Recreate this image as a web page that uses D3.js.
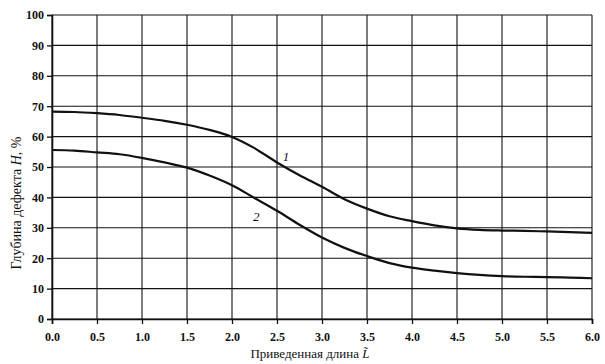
<!DOCTYPE html>
<html>
<head>
<meta charset="utf-8">
<script src="https://cdn.jsdelivr.net/npm/d3@7"></script>
<style>
  body { margin: 0; background: #fff; }
  svg { display: block; }
  .tick text { font-family: "Liberation Serif", serif; font-weight: bold; font-size: 12px; fill: #111; }
</style>
</head>
<body>
<svg id="chart" width="605" height="364"></svg>
<script>
  // relative length L~ (x), defect depth H, % (y)
  var lengths = [0, 0.25, 0.5, 0.75, 1.0, 1.25, 1.5, 1.75, 2.0, 2.25, 2.5, 2.75, 3.0,
    3.25, 3.5, 3.75, 4.0, 4.25, 4.5, 4.75, 5.0, 5.25, 5.5, 5.75, 6.0];
  var depth1 = [68.2, 68.1, 67.7, 67.1, 66.2, 65.2, 63.9, 62.2, 59.9, 56.2, 51.5, 47.3, 43.5,
    39.4, 36.3, 33.8, 32.2, 30.8, 29.8, 29.3, 29.1, 29.0, 28.8, 28.6, 28.3];
  var depth2 = [55.6, 55.4, 54.8, 54.2, 53.0, 51.5, 49.8, 47.2, 44.0, 39.8, 35.6, 31.0, 26.8,
    23.4, 20.7, 18.4, 16.9, 15.9, 15.1, 14.5, 14.1, 13.9, 13.8, 13.6, 13.4];
  var xTicks = [0, 0.5, 1, 1.5, 2, 2.5, 3, 3.5, 4, 4.5, 5, 5.5, 6];
  var yTicks = [0, 10, 20, 30, 40, 50, 60, 70, 80, 90, 100];
  var curveLabels = [
    {name: '1', x: 2.6, y: 52},
    {name: '2', x: 2.27, y: 32.3}
  ];

  var margin = {top: 15, right: 13, bottom: 45, left: 52};
  var svg = d3.select('#chart');
  var width = 605 - margin.left - margin.right;
  var height = 364 - margin.top - margin.bottom;
  var g = svg.append('g').attr('transform', 'translate(' + margin.left + ',' + margin.top + ')');

  var x = d3.scaleLinear().domain([0, 6]).range([0, width]);
  var y = d3.scaleLinear().domain([0, 100]).range([height, 0]);

  // grid
  g.append('g').selectAll('line.hg').data(yTicks).enter().append('line')
    .attr('x1', 0).attr('x2', width)
    .attr('y1', function(d) { return y(d); }).attr('y2', function(d) { return y(d); })
    .attr('stroke', '#111').attr('stroke-width', 1.1);
  g.append('g').selectAll('line.vg').data(xTicks).enter().append('line')
    .attr('y1', 0).attr('y2', height)
    .attr('x1', function(d) { return x(d); }).attr('x2', function(d) { return x(d); })
    .attr('stroke', '#111').attr('stroke-width', 1.1);

  // axes
  var xAxis = g.append('g').attr('transform', 'translate(0,' + height + ')')
    .call(d3.axisBottom(x).tickValues(xTicks).tickSize(5).tickPadding(8).tickFormat(d3.format('.1f')));
  var yAxis = g.append('g')
    .call(d3.axisLeft(y).tickValues(yTicks).tickSize(5).tickPadding(3).tickFormat(d3.format('d')));
  [xAxis, yAxis].forEach(function(a) {
    a.select('.domain').attr('stroke', '#111').attr('stroke-width', 1.6);
    a.selectAll('.tick line').attr('stroke', '#111').attr('stroke-width', 1.3);
  });

  // curves
  var line = d3.line()
    .x(function(d) { return x(d[0]); })
    .y(function(d) { return y(d[1]); })
    .curve(d3.curveMonotoneX);
  [depth1, depth2].forEach(function(series) {
    g.append('path')
      .datum(lengths.map(function(l, i) { return [l, series[i]]; }))
      .attr('fill', 'none').attr('stroke', '#111').attr('stroke-width', 2.2)
      .attr('d', line);
  });

  g.selectAll('text.curve').data(curveLabels).enter().append('text')
    .attr('x', function(d) { return x(d.x); }).attr('y', function(d) { return y(d.y); })
    .attr('text-anchor', 'middle')
    .style('font-family', '"Liberation Serif", serif').style('font-style', 'italic')
    .style('font-size', '13px').attr('fill', '#111')
    .text(function(d) { return d.name; });

  // titles
  var xt = svg.append('text').attr('x', 310).attr('y', 358).attr('text-anchor', 'middle')
    .style('font-family', '"Liberation Serif", serif').style('font-size', '13px').attr('fill', '#111');
  xt.append('tspan').text('Приведенная длина ');
  xt.append('tspan').style('font-style', 'italic').text('L\u0303');

  var yt = svg.append('text').attr('transform', 'translate(21,203) rotate(-90)').attr('text-anchor', 'middle')
    .style('font-family', '"Liberation Serif", serif').style('font-size', '14px').attr('fill', '#111');
  yt.append('tspan').text('Глубина дефекта ');
  yt.append('tspan').style('font-style', 'italic').text('H');
  yt.append('tspan').text(', %');
</script>
</body>
</html>
